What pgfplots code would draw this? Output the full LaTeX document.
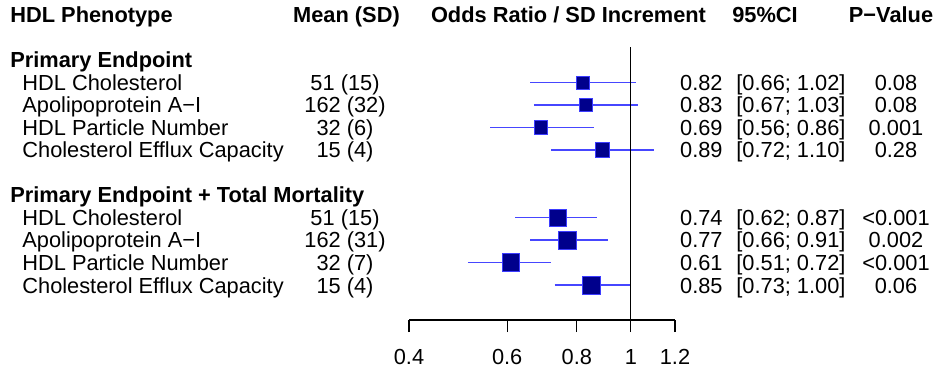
\documentclass[border=0pt]{standalone}
\usepackage{pgfplots}
\pgfplotsset{compat=1.18}
\usepackage{fontspec}
\setmainfont{Liberation Sans}
\definecolor{sqfill}{RGB}{0,0,140}
\definecolor{sqdraw}{RGB}{60,60,255}
\definecolor{cilin}{RGB}{70,70,255}
\begin{document}
\begin{tikzpicture}[font=\fontsize{10.9}{13}\selectfont]
\path[use as bounding box] (0,0) rectangle (473pt,187.5pt);
\begin{axis}[at={(204.5pt,27.5pt)}, anchor=south west, scale only axis,
  width=133pt, height=136.5pt,
  xmode=log, xmin=0.4, xmax=1.2, ymin=-0.578, ymax=11.556, y dir=reverse,
  hide y axis, axis x line*=bottom, x axis line style={-, line width=0.6pt},
  xtick={0.4,0.6,0.8,1,1.2}, xticklabels={0.4,0.6,0.8,1,1.2}, minor xtick={},
  xtick align=outside, major tick length=6pt,
  xtick style={black, line width=0.6pt},
  /pgf/number format/assume math mode=true,
  xticklabel style={font=\fontsize{10.9}{13}\selectfont, yshift=-5pt},
  clip=false]
\addplot[cilin, line width=0.6pt, unbounded coords=jump] table {
x y
0.66 1
1.02 1
nan nan
0.67 2
1.03 2
nan nan
0.56 3
0.86 3
nan nan
0.72 4
1.10 4
nan nan
0.62 7
0.87 7
nan nan
0.66 8
0.91 8
nan nan
0.51 9
0.72 9
nan nan
0.73 10
1.00 10
};
\addplot[scatter, only marks, mark=square*,
  scatter/use mapped color={draw=sqdraw, fill=sqfill},
  visualization depends on={\thisrow{ms}\as\ms},
  scatter/@pre marker code/.append style={/tikz/mark size=\ms pt},
  mark options={line width=0.4pt}] table[x=or, y=row] {
or row ms
0.82 1 3.2
0.83 2 3.3
0.69 3 3.4
0.89 4 3.6
0.74 7 4.2
0.77 8 4.5
0.61 9 4.35
0.85 10 4.5
};
\addplot[black, line width=0.6pt] coordinates {(1,-0.578) (1,11.556)};
\end{axis}
\begin{scope}[x=0.5pt, y=-0.5pt, shift={(0,187.5pt)}, every node/.style={inner sep=0pt}]
% header
\node[anchor=base west] at (10,23) {\bfseries HDL Phenotype};
\node[anchor=base] at (346.5,23) {\bfseries Mean (SD)};
\node[anchor=base] at (568.5,23) {\bfseries Odds Ratio / SD Increment};
\node[anchor=base] at (765,23) {\bfseries 95\%CI};
\node[anchor=base] at (891,23) {\bfseries P−Value};
% group headings
\node[anchor=base west] at (10,68) {\bfseries Primary Endpoint};
\node[anchor=base west] at (10,203) {\bfseries Primary Endpoint + Total Mortality};
% group 1
\node[anchor=base west] at (22,90.5) {HDL Cholesterol};
\node[anchor=base west] at (22,113) {Apolipoprotein A−I};
\node[anchor=base west] at (22,135.5) {HDL Particle Number};
\node[anchor=base west] at (22,158) {Cholesterol Efflux Capacity};
\node[anchor=base] at (345,90.5) {51 (15)};
\node[anchor=base] at (345,113) {162 (32)};
\node[anchor=base] at (345,135.5) {32 (6)};
\node[anchor=base] at (345,158) {15 (4)};
\node[anchor=base east] at (723,90.5) {0.82};
\node[anchor=base east] at (723,113) {0.83};
\node[anchor=base east] at (723,135.5) {0.69};
\node[anchor=base east] at (723,158) {0.89};
\node[anchor=base west] at (736,90.5) {[0.66; 1.02]};
\node[anchor=base west] at (736,113) {[0.67; 1.03]};
\node[anchor=base west] at (736,135.5) {[0.56; 0.86]};
\node[anchor=base west] at (736,158) {[0.72; 1.10]};
\node[anchor=base] at (896,90.5) {0.08};
\node[anchor=base] at (896,113) {0.08};
\node[anchor=base] at (896,135.5) {0.001};
\node[anchor=base] at (896,158) {0.28};
% group 2
\node[anchor=base west] at (22,225.5) {HDL Cholesterol};
\node[anchor=base west] at (22,248) {Apolipoprotein A−I};
\node[anchor=base west] at (22,270.5) {HDL Particle Number};
\node[anchor=base west] at (22,293) {Cholesterol Efflux Capacity};
\node[anchor=base] at (345,225.5) {51 (15)};
\node[anchor=base] at (345,248) {162 (31)};
\node[anchor=base] at (345,270.5) {32 (7)};
\node[anchor=base] at (345,293) {15 (4)};
\node[anchor=base east] at (723,225.5) {0.74};
\node[anchor=base east] at (723,248) {0.77};
\node[anchor=base east] at (723,270.5) {0.61};
\node[anchor=base east] at (723,293) {0.85};
\node[anchor=base west] at (736,225.5) {[0.62; 0.87]};
\node[anchor=base west] at (736,248) {[0.66; 0.91]};
\node[anchor=base west] at (736,270.5) {[0.51; 0.72]};
\node[anchor=base west] at (736,293) {[0.73; 1.00]};
\node[anchor=base] at (896,225.5) {<0.001};
\node[anchor=base] at (896,248) {0.002};
\node[anchor=base] at (896,270.5) {<0.001};
\node[anchor=base] at (896,293) {0.06};
\end{scope}
\end{tikzpicture}
\end{document}
